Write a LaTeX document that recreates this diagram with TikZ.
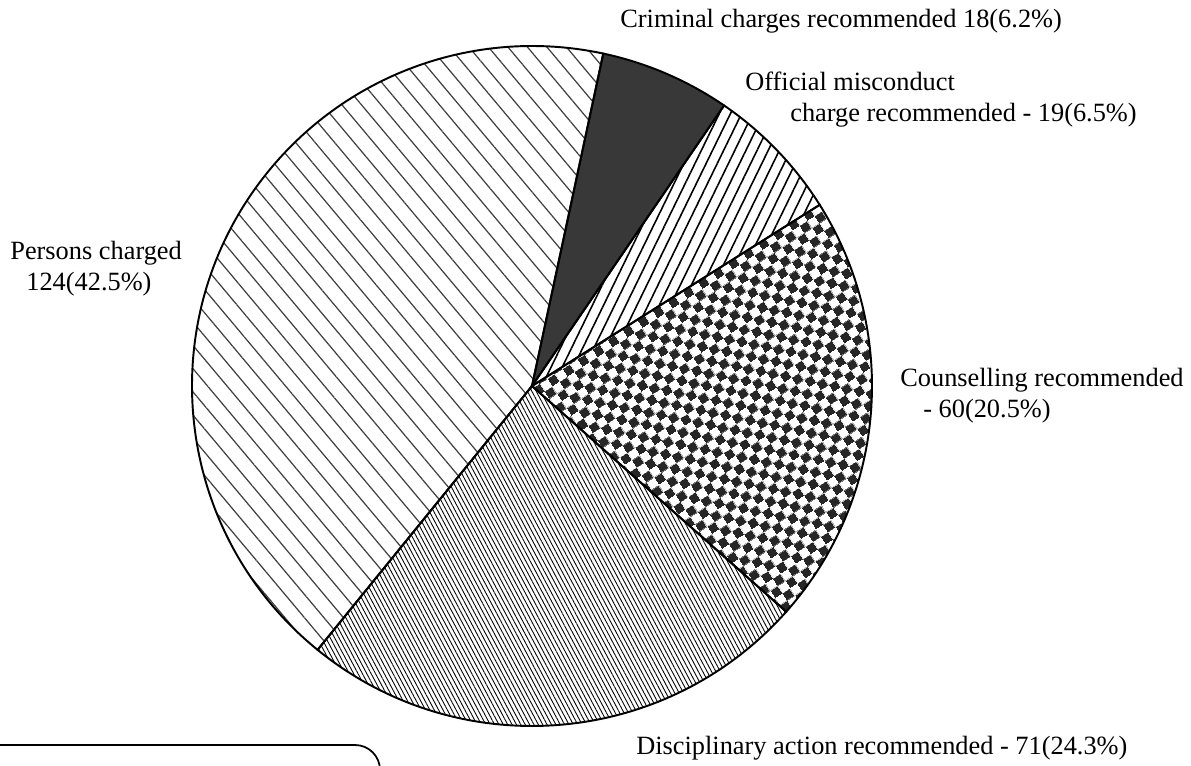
\documentclass[tikz,border=0pt]{standalone}
\usepackage{fontspec}
\setmainfont{Liberation Serif}
\usetikzlibrary{patterns,patterns.meta}

\tikzdeclarepattern{
  name=checks,
  type=uncolored,
  bottom left={(0pt,0pt)},
  top right={(10pt,10pt)},
  tile size={(10pt,10pt)},
  tile transformation={rotate=33},
  code={
    \fill (0pt,0pt) rectangle (5pt,5pt);
    \fill (5pt,5pt) rectangle (10pt,10pt);
  }
}

\begin{document}
\begin{tikzpicture}[x=0.02cm, y=0.02cm,
  every node/.style = {font=\fontsize{15}{18}\selectfont,
    align=left, inner sep=0pt, anchor=base west},
  slice/.style = {draw=black, line width=1.1pt},
  crimfill/.style = {fill=black!78},
  officfill/.style = {pattern={Lines[angle=64,distance=5.7pt,line width=0.9pt]}},
  counsfill/.style = {pattern=checks, pattern color=black!85},
  discfill/.style = {pattern={Lines[angle=-62,distance=2.2pt,line width=0.5pt]}},
  persfill/.style = {pattern={Lines[angle=-50,distance=8.5pt,line width=0.7pt]},
    pattern color=black!75}]
  \useasboundingbox (0,0) rectangle (1191,-766);
  \coordinate (c) at (532,-386);
  % slices, clockwise from the top
  \foreach \from/\to/\look in {77.9/55.6/crimfill, 55.6/32.2/officfill,
      32.2/-41.6/counsfill, -41.6/-129.1/discfill, -129.1/-282.1/persfill}
    \draw[slice,\look] (c) -- ++(\from:340)
      arc[start angle=\from, end angle=\to, radius=340] -- cycle;
  % labels (base = last line)
  \node (crim) at (620,-28) {Criminal charges recommended 18(6.2\%)};
  \node (offic) at (745,-122) {Official misconduct\\\hspace*{0.9cm}charge recommended - 19(6.5\%)};
  \node (pers) at (10,-291) {Persons charged\\\hspace*{0.32cm}124(42.5\%)};
  \node (couns) at (900,-418) {Counselling recommended\\\hspace*{0.46cm}- 60(20.5\%)};
  \node (disc) at (636,-755) {Disciplinary action recommended - 71(24.3\%)};
  % box cut off at the bottom
  \begin{scope}
    \clip (0,0) rectangle (1191,-766);
    \draw[line width=1pt, rounded corners=0.5cm] (-30,-830) rectangle (380,-745);
  \end{scope}
\end{tikzpicture}
\end{document}
